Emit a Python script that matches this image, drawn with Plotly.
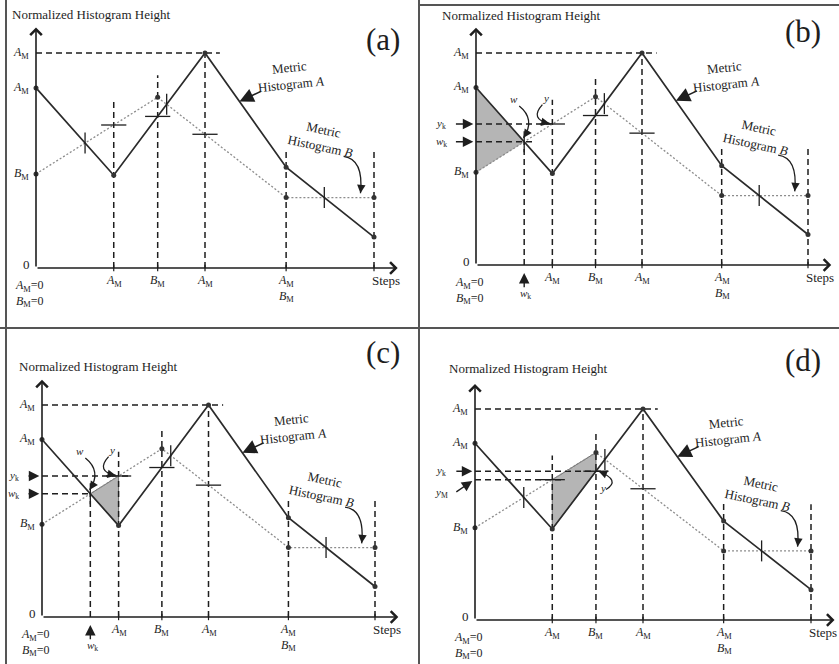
import numpy as np
import plotly.graph_objects as go

W, H = 839, 664
SERIF = "Liberation Serif"
INK = "#1e1e1e"

# ---------------- data (step / height units) ----------
A_x = [0.0, 2.3, 5.0, 7.4, 10.0]
A_y = [6.7, 3.45, 8.0, 3.75, 1.15]
B_x = [0.0, 3.6, 7.4, 10.0]
B_y = [3.5, 6.35, 2.62, 2.62]

step_ticks = [2.3, 3.6, 5.0, 7.4]
step_labels = ["<i>A</i><sub>M</sub>", "<i>B</i><sub>M</sub>", "<i>A</i><sub>M</sub>",
               "<i>A</i><sub>M</sub><br><i>B</i><sub>M</sub>"]
guide_x = [2.3, 3.6, 5.0, 7.4, 10.0]
guide_top = [6.24, 7.17, 8.0, 4.46, 4.39]
peak_guide_end = 5.44
height_ticks = [8.0, 6.7, 3.5]
height_labels = ["<i>A</i><sub>M</sub>", "<i>A</i><sub>M</sub>", "<i>B</i><sub>M</sub>"]
panel_names = ["(a)", "(b)", "(c)", "(d)"]


def A(x):
    return float(np.interp(x, A_x, A_y))


def B(x):
    return float(np.interp(x, B_x, B_y))


def crossings():
    xs = np.union1d(A_x, B_x)
    out = []
    for x0, x1 in zip(xs[:-1], xs[1:]):
        d0, d1 = A(x0) - B(x0), A(x1) - B(x1)
        if d0 * d1 < 0:
            xc = x0 + (x1 - x0) * d0 / (d0 - d1)
            out.append((xc, A(xc)))
    return out


cross = crossings()
xc1, yc1 = cross[0]

# ---------------- panel placement (pixels) ----------------------------------
panels = [
    dict(L=0, T=0, W=420, H=330, ox=36, oy=268, sx=33.8, sy=26.875, title=(10, 14), label=(383, 40), lab=-1.05),
    dict(L=420, T=0, W=419, H=330, ox=476, oy=265, sx=33.2, sy=26.5, title=(440, 16), label=(803, 31), lab=-1.05),
    dict(L=0, T=330, W=420, H=334, ox=42, oy=617, sx=33.3, sy=26.5, title=(17, 366), label=(383, 353), lab=-0.85),
    dict(L=420, T=330, W=419, H=334, ox=475, oy=620, sx=33.6, sy=26.375, title=(447, 368), label=(803, 360), lab=-1.0),
]

fig = go.Figure()
layout = {}
annotations = []
shapes = []


def sfx(i):
    return "" if i == 0 else str(i + 1)


def line_trace(k, x, y, color=INK, width=1.4, dash="solid", fill=None, fillcolor=None, mode="lines"):
    fig.add_trace(go.Scatter(x=x, y=y, mode=mode, xaxis="x" + k, yaxis="y" + k,
                             line=dict(color=color, width=width, dash=dash),
                             fill=fill, fillcolor=fillcolor, hoverinfo="skip", showlegend=False))


def text(k, x, y, t, size=11, **kw):
    d = dict(xref="x" + k, yref="y" + k, x=x, y=y, text=t, showarrow=False,
             font=dict(family=SERIF, size=size, color=INK))
    d.update(kw)
    annotations.append(d)


def arrow(k, x, y, ax, ay, head=2, size=1.0, width=1.4, data_tail=True):
    d = dict(xref="x" + k, yref="y" + k, x=x, y=y, ax=ax, ay=ay, text="",
             showarrow=True, arrowhead=head, arrowsize=size, arrowwidth=width,
             arrowcolor=INK, standoff=0, startstandoff=0)
    if data_tail:
        d.update(axref="x" + k, ayref="y" + k)
    annotations.append(d)


def curved_arrow(k, p, p0, p1, p2, head_len=9):
    shapes.append(dict(type="path", xref="x" + k, yref="y" + k,
                       path=f"M {p0[0]},{p0[1]} Q {p1[0]},{p1[1]} {p2[0]},{p2[1]}",
                       line=dict(color=INK, width=1.3)))
    dx = (p2[0] - p1[0]) * p["sx"]
    dy = -(p2[1] - p1[1]) * p["sy"]
    n = max((dx * dx + dy * dy) ** 0.5, 1e-6)
    arrow(k, p2[0], p2[1], -dx / n * head_len, -dy / n * head_len, head=2, size=1.3,
          width=1.3, data_tail=False)


for i, p in enumerate(panels):
    k = sfx(i)
    xr = [(p["L"] - p["ox"]) / p["sx"], (p["L"] + p["W"] - p["ox"]) / p["sx"]]
    yr = [(p["oy"] - (p["T"] + p["H"])) / p["sy"], (p["oy"] - p["T"]) / p["sy"]]
    layout["xaxis" + k] = dict(domain=[p["L"] / W, (p["L"] + p["W"]) / W], range=xr,
                               visible=False, anchor="y" + k, fixedrange=True)
    layout["yaxis" + k] = dict(domain=[1 - (p["T"] + p["H"]) / H, 1 - p["T"] / H], range=yr,
                               visible=False, anchor="x" + k, fixedrange=True)

    # shaded regions
    if i == 1:
        line_trace(k, [0, xc1, 0, 0], [A(0), yc1, B(0), A(0)], width=0.5, color="#999",
                   fill="toself", fillcolor="rgba(120,120,120,0.55)")
    elif i == 2:
        line_trace(k, [xc1, 2.3, 2.3, xc1], [yc1, B(2.3), A(2.3), yc1], width=0.8, color="#555",
                   fill="toself", fillcolor="rgba(120,120,120,0.55)")
    elif i == 3:
        line_trace(k, [2.3, 3.6, 3.6, 2.3, 2.3], [B(2.3), B(3.6), A(3.6), A(2.3), B(2.3)],
                   width=0.8, color="#555", fill="toself", fillcolor="rgba(120,120,120,0.55)")

    # dashed guide lines
    gx, gy = [], []
    for x, t in zip(guide_x, guide_top):
        gx += [x, x, None]
        gy += [0, t, None]
    gx += [0, peak_guide_end, None]
    gy += [max(A_y), max(A_y), None]
    if i in (1, 2):
        gx += [xc1, xc1, None, 0, 2.3 + (0.1 if i == 1 else 0.35), None, 0, xc1 + (0.3 if i == 1 else 0), None]
        gy += [0, yc1, None, B(2.3), B(2.3), None, yc1, yc1, None]
    if i == 3:
        gx += [0, 3.75, None, 0, 2.65, None]
        gy += [A(3.6), A(3.6), None, B(2.3), B(2.3), None]
    line_trace(k, gx, gy, width=1.5, dash="6px,4px")

    # the two histograms
    line_trace(k, B_x, B_y, color="#8c8c8c", width=1.3, dash="2px,2px")
    line_trace(k, A_x, A_y, color="#2b2b2b", width=1.7)

    # vertex dots
    fig.add_trace(go.Scatter(x=A_x + B_x, y=A_y + B_y, mode="markers", xaxis="x" + k, yaxis="y" + k,
                             marker=dict(size=5, color="#333"), hoverinfo="skip", showlegend=False))
    # crossing ticks (vertical) and interpolated ticks (horizontal)
    fig.add_trace(go.Scatter(x=[c[0] for c in cross], y=[c[1] for c in cross], mode="markers",
                             xaxis="x" + k, yaxis="y" + k,
                             marker=dict(symbol="line-ns", size=15, line=dict(width=1.3, color=INK)),
                             hoverinfo="skip", showlegend=False))
    fig.add_trace(go.Scatter(x=[2.3, 3.6, 5.0], y=[B(2.3), A(3.6), B(5.0)], mode="markers",
                             xaxis="x" + k, yaxis="y" + k,
                             marker=dict(symbol="line-ew", size=18, line=dict(width=1.3, color=INK)),
                             hoverinfo="skip", showlegend=False))

    # axes with open arrowheads
    arrow(k, 0, 8.95, 0, 0, head=4, size=1.4, width=1.6)
    arrow(k, 10.7, 0, 0, 0, head=4, size=1.4, width=1.6)
    # x tick marks
    tx, ty = [], []
    for x in step_ticks + [10.0]:
        tx += [x, x, None]
        ty += [-0.12, 0.12, None]
    line_trace(k, tx, ty, width=1.2)

    # axis labels
    for x, t in zip(step_ticks, step_labels):
        text(k, x, -0.12, t, size=12, yanchor="top")
    text(k, 10.35, -0.12, "Steps", size=13, yanchor="top")
    text(k, -0.12, 0.12, "0", size=13, xanchor="right")
    text(k, -0.2, -0.3, "<i>A</i><sub>M</sub>=0<br><i>B</i><sub>M</sub>=0", size=12, yanchor="top")
    for y, t in zip(height_ticks, height_labels):
        text(k, -0.15, y, t, size=12, xanchor="right")

    # histogram labels
    text(k, 7.5, 7.15, "Metric<br>Histogram <i>A</i>", size=13, textangle=-6)
    arrow(k, 6.02, A(6.02), 6.7, 6.6, head=2, size=1.9, width=1.5)
    text(k, 8.45, 4.85, "Metric<br>Histogram <i>B</i>", size=13, textangle=12)
    curved_arrow(k, p, (9.1, 4.15), (9.7, 4.05), (9.6, 2.78))

    # panel title and letter (pixel placement)
    annotations.append(dict(xref="paper", yref="paper", x=p["title"][0] / W, y=1 - p["title"][1] / H,
                            xanchor="left", yanchor="middle", showarrow=False,
                            text="Normalized Histogram Height",
                            font=dict(family=SERIF, size=13, color=INK)))
    annotations.append(dict(xref="paper", yref="paper", x=p["label"][0] / W, y=1 - p["label"][1] / H,
                            xanchor="center", yanchor="middle", showarrow=False,
                            text=panel_names[i], font=dict(family=SERIF, size=31, color=INK)))

    # panel specific notation
    lab = p["lab"]
    if i in (1, 2):
        text(k, lab, B(2.3), "<i>y</i><sub>k</sub>", size=11)
        arrow(k, -0.08, B(2.3), lab + 0.4, B(2.3), head=2, size=1.5, width=1.4)
        text(k, lab, yc1, "<i>w</i><sub>k</sub>", size=11)
        arrow(k, -0.08, yc1, lab + 0.4, yc1, head=2, size=1.5, width=1.4)
        arrow(k, xc1, -0.3, xc1, -0.9, head=2, size=1.5, width=1.4)
        text(k, xc1 + 0.05, -1.1, "<i>w</i><sub>k</sub>", size=11)
        text(k, xc1 - 0.3, 6.25, "<i>w</i>", size=11)
        curved_arrow(k, p, (xc1 - 0.15, 6.0), (xc1 + 0.35, 5.5), (xc1 - 0.02, yc1 + 0.15))
        text(k, 2.1, 6.3, "<i>y</i>", size=11)
        curved_arrow(k, p, (2.0, 6.05), (1.6, 5.5), (2.22, B(2.3) + 0.02))
    if i == 3:
        text(k, lab, A(3.6), "<i>y</i><sub>k</sub>", size=11)
        arrow(k, -0.08, A(3.6), lab + 0.4, A(3.6), head=2, size=1.5, width=1.4)
        text(k, lab, B(2.3) - 0.5, "<i>y</i><sub>M</sub>", size=11)
        arrow(k, -0.08, B(2.3) - 0.05, lab + 0.4, B(2.3) - 0.5, head=2, size=1.5, width=1.4)
        text(k, 3.8, 5.0, "<i>y</i>", size=11)
        curved_arrow(k, p, (3.9, 4.95), (4.35, 5.3), (3.68, A(3.6)))


# panel frame lines (pixels -> paper)
def pline(x0, y0, x1, y1):
    shapes.append(dict(type="line", xref="paper", yref="paper", x0=x0 / W, y0=1 - y0 / H,
                       x1=x1 / W, y1=1 - y1 / H, line=dict(color="#555", width=2)))


pline(6, 0, 6, 664)
pline(419, 0, 419, 664)
pline(0, 328, 839, 328)
pline(420, 5, 839, 5)

layout.update(width=W, height=H, margin=dict(l=0, r=0, t=0, b=0, pad=0),
              paper_bgcolor="white", plot_bgcolor="white",
              annotations=annotations, shapes=shapes, showlegend=False)
fig.update_layout(**layout)
fig.write_html("out.html", config={"displayModeBar": False},
               post_script="document.body.style.margin='0';document.body.style.overflow='hidden';")
